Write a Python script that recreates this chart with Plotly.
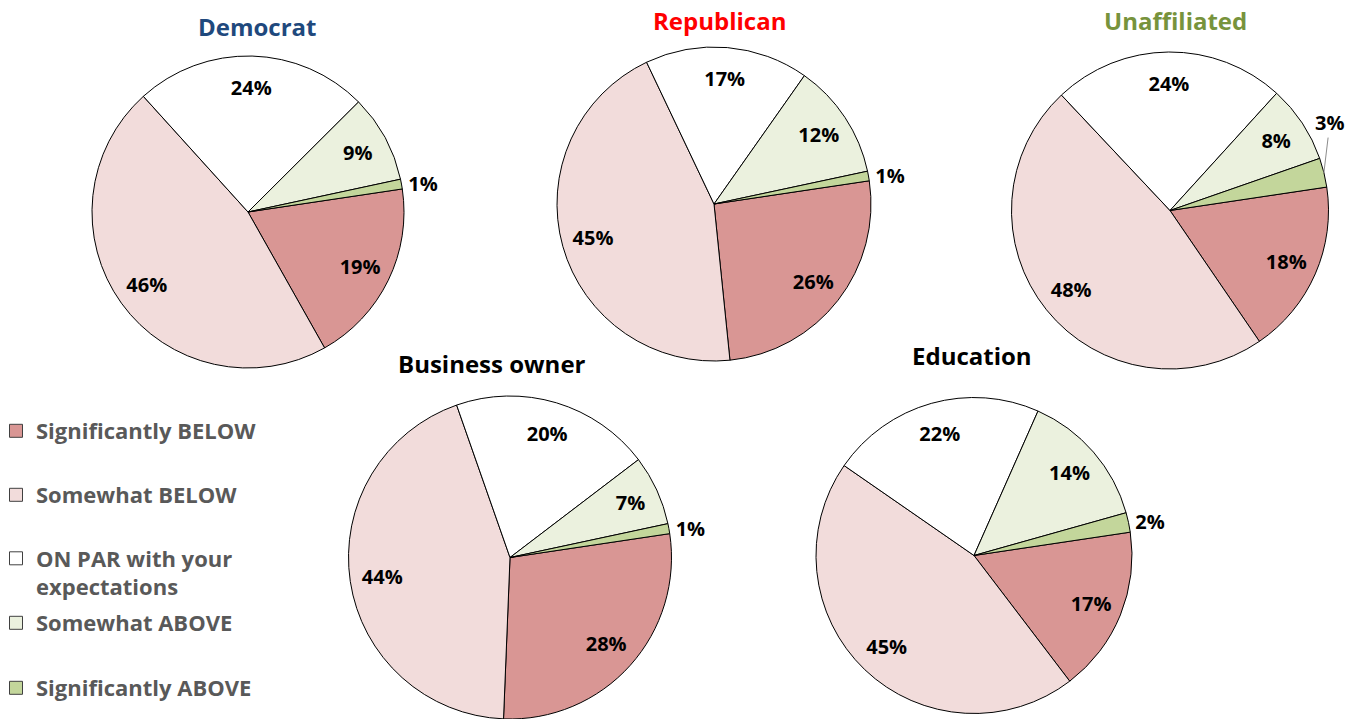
import math
import plotly.graph_objects as go

W, H = 1353, 719

labels = ["Significantly BELOW", "Somewhat BELOW", "ON PAR with your<br>expectations",
          "Somewhat ABOVE", "Significantly ABOVE"]
colors = ["#D99694", "#F2DCDB", "#FFFFFF", "#EBF1DE", "#C3D69B"]

democrat = [19, 46, 24, 9, 1]
republican = [26, 45, 17, 12, 1]
unaffiliated = [18, 48, 24, 8, 3]
business_owner = [28, 44, 20, 7, 1]
education = [17, 45, 22, 14, 2]

groups = [
    ("Democrat", democrat, "#1F497D"),
    ("Republican", republican, "#FF0000"),
    ("Unaffiliated", unaffiliated, "#77933C"),
    ("Business owner", business_owner, "#000000"),
    ("Education", education, "#000000"),
]

# layout (pixel boxes): pie center x, center y, radius ; title center x, y
pie_boxes = [
    (248, 212, 156),
    (714, 204, 157),
    (1170, 210.5, 158.5),
    (510, 557.5, 161.5),
    (974, 555.5, 158),
]
title_pos = [(257, 27), (720, 20), (1175, 20), (492, 363), (972, 356)]
ROT = 81.5

FONT = "Open Sans"
LABEL_FONT = dict(family=FONT, size=20, weight="bold", color="#000000")
fig = go.Figure()


def dom(cx, cy, r):
    x0, x1 = (cx - r) / W, (cx + r) / W
    y0, y1 = 1 - (cy + r) / H, 1 - (cy - r) / H
    return dict(x=[max(0, x0), min(1, x1)], y=[max(0, y0), min(1, y1)])


for (name, vals, tcol), (cx, cy, r), (tx, ty) in zip(groups, pie_boxes, title_pos):
    d = dom(cx, cy, r)
    fig.add_trace(go.Pie(
        labels=labels, values=vals, sort=False, direction="clockwise", rotation=ROT,
        marker=dict(colors=colors, line=dict(color="#000000", width=1)),
        textinfo="none", domain=d, showlegend=False, hoverinfo="label+value",
        name=name,
    ))
    tp = ["inside" if v >= 5 else "outside" for v in vals]
    called_out = name == "Unaffiliated"
    if called_out:
        tp[-1] = "none"
    fig.add_trace(go.Pie(
        labels=labels, values=vals, sort=False, direction="clockwise", rotation=ROT,
        hole=0.6,
        marker=dict(colors=["rgba(0,0,0,0)"] * len(vals), line=dict(width=0)),
        texttemplate="%{value}%", textposition=tp, insidetextorientation="horizontal",
        textfont=LABEL_FONT,
        domain=d, showlegend=False, hoverinfo="none",
    ))
    if called_out:
        # label of the last (small) slice, lifted above with a leader line
        total = sum(vals)
        mid = (sum(vals[:-1]) + vals[-1] / 2) / total
        ang = math.radians(ROT + 360 * mid)
        ex = cx + r * math.sin(ang)
        ey = cy - r * math.cos(ang)
        fig.add_annotation(x=ex / W, y=1 - ey / H, xref="paper", yref="paper",
                           text=f"{vals[-1]}%", showarrow=True, arrowhead=0,
                           arrowwidth=1, arrowcolor="#8C8C8C", ax=6, ay=-50,
                           font=LABEL_FONT)
    fig.add_annotation(text=name, x=tx / W, y=1 - ty / H, xref="paper", yref="paper",
                       xanchor="center", yanchor="middle", showarrow=False,
                       font=dict(family=FONT, size=24, weight="bold", color=tcol))

# legend: one legend per entry so spacing matches
legend_y = [431, 495, 573, 623, 688]
layout_legends = {}
for i, (lab, col, ly) in enumerate(zip(labels, colors, legend_y)):
    key = "legend" if i == 0 else f"legend{i+1}"
    fig.add_trace(go.Scatter(
        x=[None], y=[None], mode="markers", name=lab, legend=key,
        marker=dict(symbol="square", size=13, color=col, line=dict(color="#404040", width=1)),
        hoverinfo="skip",
    ))
    layout_legends[key] = dict(
        x=-4 / W, xanchor="left", y=1 - ly / H, yanchor="middle",
        bgcolor="rgba(0,0,0,0)", borderwidth=0, valign="top",
        font=dict(family=FONT, size=22, weight="bold", color="#595959"),
        itemclick=False, itemdoubleclick=False,
    )

fig.update_layout(
    width=W, height=H, margin=dict(l=0, r=0, t=0, b=0, autoexpand=False),
    paper_bgcolor="white", plot_bgcolor="white",
    xaxis=dict(visible=False), yaxis=dict(visible=False),
    showlegend=True,
    **layout_legends,
)

fig.write_html("out.html")
